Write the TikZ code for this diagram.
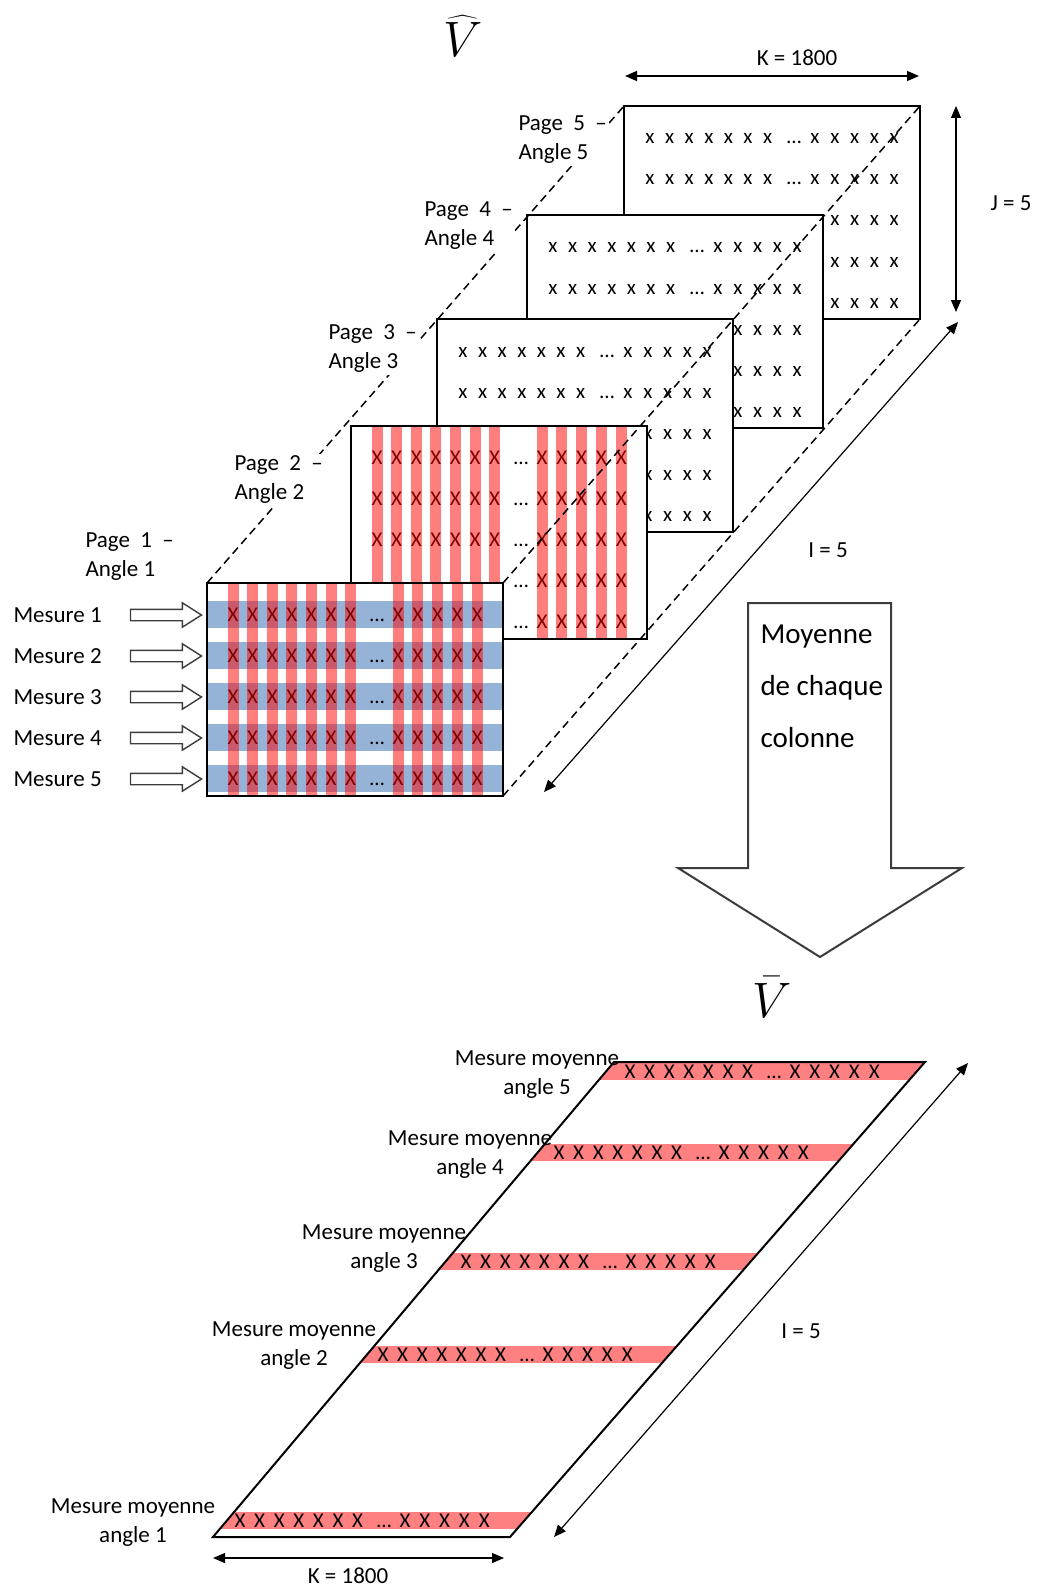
\documentclass[tikz,border=0pt]{standalone}
\usepackage{fontspec}
\setmainfont{Carlito}
\usetikzlibrary{arrows.meta,shapes.arrows}
\definecolor{ink}{RGB}{0,0,0}
\definecolor{frame}{RGB}{60,60,60}
\definecolor{colred}{RGB}{255,0,0}
\definecolor{rowblue}{RGB}{149,179,215}
\newcommand\lblsize{\fontsize{11.5}{14.5}\selectfont}
\newcommand\cellsize{\fontsize{10.5}{12}\selectfont}
\newcommand\notesize{\fontsize{14.5}{26}\selectfont}
% column and row offsets inside one page, in px of the sheet
\newcommand\colpos{1/26,2/45.6,3/65.2,4/84.8,5/104.4,6/124,7/143.6,8/191,9/210.8,10/230.6,11/250.4,12/270.2}
\newcommand\rowpos{1/31,2/72,3/113,4/154,5/195}
\tikzset{
  every picture/.style={x=0.5pt, y=-0.5pt, color=ink, line width=0.5pt, font=\lblsize},
  page/.style={draw=ink, fill=white, line width=1.2pt, anchor=north west, minimum width=148pt, minimum height=106.5pt, inner sep=0pt, outer sep=0pt},
  cell/.style={inner sep=0pt, font=\cellsize, text height=7pt, text depth=0pt},
  lbl/.style={inner sep=1pt, align=left, anchor=west},
  pagelbl/.style={lbl, fill=white},
  avglbl/.style={inner sep=0pt, align=center},
  guide/.style={dash pattern=on 4pt off 2.5pt, line width=0.75pt},
  colband/.style={fill=colred, fill opacity=0.5},
  rowband/.style={fill=rowblue},
  avgband/.style={fill=colred!50},
  mesarrow/.style={single arrow, draw=frame, fill=white, line width=0.7pt, minimum height=35.5pt, inner sep=2.5pt, single arrow head extend=3.25pt, single arrow tip angle=65},
  dim/.style={{Triangle[length=6pt,width=5pt]}-{Triangle[length=6pt,width=5pt]}, line width=0.6pt},
  bigarrow/.style={draw=frame, fill=white, line width=1pt},
  sheet/.style={draw=ink, line width=1pt},
  matname/.style={font=\Huge, inner sep=0pt},
}
\begin{document}
\begin{tikzpicture}
  % the five pages of V hat, back page first, then their column average V bar
  \useasboundingbox (0,0) rectangle (1042,1589);
  \node[matname] (vhat) at (463,36) {$\widehat{V}$};

  % \fx/\fy: corner of the page in front; cells wholly under it are left out
  \foreach \k/\px/\py/\ch/\fx/\fy in {5/624/106/x/527/215,4/527/215/x/437/319,3/437/319/x/351/426,2/351/426/X/207/583,1/207/583/X/2000/2000} {
    \node[page] (p\k) at (\px,\py) {};
    \begin{scope}[shift={(p\k.north west)}]
      \ifnum\k=1
        \foreach \r/\dy in \rowpos
          \fill[rowband] (1.2,\dy-13.5) rectangle (294.8,\dy+13.5);
      \fi
      \foreach \r/\dy in \rowpos {
        \foreach \c/\dx in \colpos {
          \pgfmathtruncatemacro\seen{(\px+\dx < \fx+3) || (\px+\dx > \fx+293) || (\py+\dy < \fy-5) || (\py+\dy > \fy+218)}
          \ifnum\seen=1
            \node[cell] (p\k-\r-\c) at (\dx,\dy) {\ch};
          \fi
        }
        \pgfmathtruncatemacro\seen{(\px+170 < \fx+5) || (\px+170 > \fx+291) || (\py+\dy < \fy-5) || (\py+\dy > \fy+218)}
        \ifnum\seen=1
          \node[cell] (p\k-\r-dots) at (170,\dy) {…};
        \fi
      }
      \ifnum\k<3
        \foreach \c/\dx in \colpos
          \fill[colband] (\dx-5.5,1.2) rectangle (\dx+5.5,211.8);
      \fi
    \end{scope}
  }
  \draw[guide] (p1.north west) -- (p5.north west);
  \draw[guide] (p1.north east) -- (p5.north east);
  \draw[guide] (p1.south east) -- (p5.south east);

  \node[pagelbl] (l1) at (83,557) {Page\ \ 1\ \ --\\Angle 1};
  \node[pagelbl] (l2) at (232,480) {Page\ \ 2\ \ --\\Angle 2};
  \node[pagelbl] (l3) at (326,349) {Page\ \ 3\ \ --\\Angle 3};
  \node[pagelbl] (l4) at (422,226) {Page\ \ 4\ \ --\\Angle 4};
  \node[pagelbl] (l5) at (516,140) {Page\ \ 5\ \ --\\Angle 5};

  \foreach \r/\y in {1/615,2/656,3/697,4/738,5/779} {
    \node[lbl] (m\r) at (11,\y) {Mesure \r};
    \node[mesarrow] (ma\r) at (161.5,\y) {};
  }

  \coordinate (k-left) at (625,76);
  \coordinate (k-right) at (919,76);
  \draw[dim] (k-left) -- (k-right);
  \node (k-lbl) at (797,58) {K = 1800};
  \coordinate (j-top) at (956,106);
  \coordinate (j-bot) at (956,312);
  \draw[dim] (j-top) -- (j-bot);
  \node (j-lbl) at (1011,203) {J = 5};
  \coordinate (i-back) at (958,322);
  \coordinate (i-front) at (544,792);
  \draw[dim] (i-back) -- (i-front);
  \node (i-lbl) at (828,550) {I = 5};

  \draw[bigarrow] (748,603) -- (891,603) -- (891,868) -- (962,868) -- (820,957) -- (678,868) -- (748,868) -- cycle;
  \node[lbl, font=\notesize, anchor=north west] (note) at (758,622) {Moyenne\\de chaque\\colonne};

  \node[matname] (vbar) at (772,997) {$\bar{V}$};

  \coordinate (s-bl) at (213,1537);
  \coordinate (s-br) at (510,1537);
  \coordinate (s-tr) at (925,1062);
  \coordinate (s-tl) at (614,1062);
  \begin{scope}
    \clip (s-bl) -- (s-br) -- (s-tr) -- (s-tl) -- cycle;
    \foreach \ay in {1071,1152,1261,1354,1520}
      \fill[avgband] (0,\ay-8.5) rectangle (1042,\ay+8.5);
  \end{scope}
  \foreach \k/\ax/\ay in {5/630/1071,4/559/1152,3/466/1261,2/383/1354,1/240/1520} {
    \begin{scope}[shift={(\ax-26,\ay)}]
      \foreach \c/\dx in \colpos
        \node[cell] (a\k-\c) at (\dx,0) {X};
      \node[cell] (a\k-dots) at (170,0) {…};
    \end{scope}
  }
  \draw[sheet] (s-bl) -- (s-br) -- (s-tr) -- (s-tl) -- cycle;

  \node[avglbl] (g5) at (537,1075) {Mesure moyenne\\angle 5};
  \node[avglbl] (g4) at (470,1155) {Mesure moyenne\\angle 4};
  \node[avglbl] (g3) at (384,1249) {Mesure moyenne\\angle 3};
  \node[avglbl] (g2) at (294,1346) {Mesure moyenne\\angle 2};
  \node[avglbl] (g1) at (133,1523) {Mesure moyenne\\angle 1};

  \coordinate (k2-left) at (213,1558);
  \coordinate (k2-right) at (504,1558);
  \draw[dim] (k2-left) -- (k2-right);
  \node (k2-lbl) at (348,1576) {K = 1800};
  \coordinate (i2-back) at (968,1063);
  \coordinate (i2-front) at (554,1537);
  \draw[dim] (i2-back) -- (i2-front);
  \node (i2-lbl) at (801,1331) {I = 5};
\end{tikzpicture}
\end{document}
